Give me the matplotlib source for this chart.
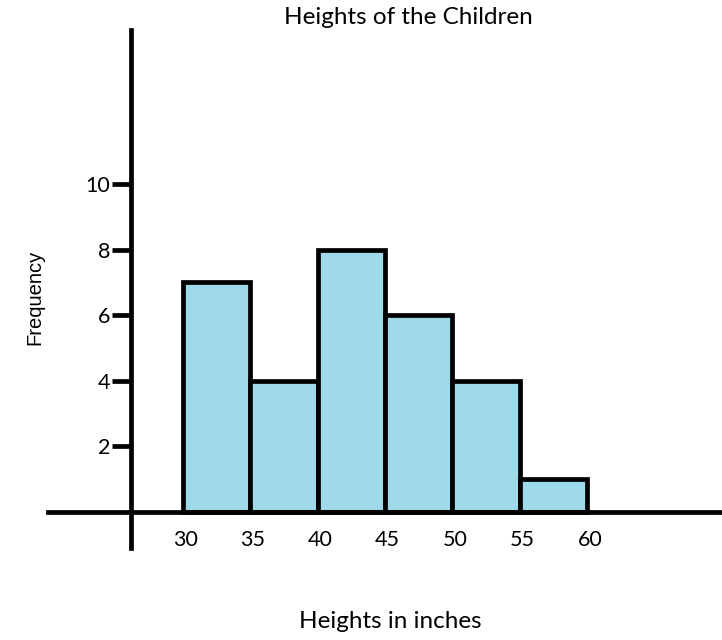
import matplotlib

matplotlib.use("Agg")
import matplotlib.pyplot as plt

# histogram bins (inches) and counts
bin_edges = [30, 35, 40, 45, 50, 55, 60]
frequencies = [7, 4, 8, 6, 4, 1]
x_tick_values = [30, 35, 40, 45, 50, 55, 60]
y_tick_values = [2, 4, 6, 8, 10]

title_text = "Heights of the Children"
x_label_text = "Heights in inches"
y_label_text = "Frequency"

BAR_COLOR = "#9fdaea"
LINE_WIDTH = 3.4

figure = plt.figure(figsize=(7.22, 6.4), dpi=100)
axis = figure.add_axes([48 / 722, (640 - 548) / 640, 1 - 48 / 722, (548 - 30) / 640])

widths = [right - left for left, right in zip(bin_edges[:-1], bin_edges[1:])]
axis.bar(
    bin_edges[:-1],
    frequencies,
    width=widths,
    align="edge",
    color=BAR_COLOR,
    edgecolor="black",
    linewidth=LINE_WIDTH,
    zorder=2,
)

axis.set_xlim(20, 70)
axis.set_ylim(-1.1, 14.7)

for side in ("top", "right"):
    axis.spines[side].set_visible(False)
axis.spines["left"].set_position(("data", 26.15))
axis.spines["bottom"].set_position(("data", 0))
for side in ("left", "bottom"):
    axis.spines[side].set_linewidth(LINE_WIDTH)
    axis.spines[side].set_zorder(3)

axis.set_yticks(y_tick_values)
axis.set_yticklabels([str(v) for v in y_tick_values], fontsize=15.5, family="Lato")
axis.tick_params(axis="y", direction="out", length=14, width=LINE_WIDTH, pad=1)

axis.set_xticks([v + 0.2 for v in x_tick_values])
axis.set_xticklabels([str(v) for v in x_tick_values], fontsize=15.5, family="Lato")
axis.tick_params(axis="x", length=0, pad=13)

figure.text(408 / 722, 1 - 18 / 640, title_text, ha="center", va="center",
            fontsize=17.5, family="Lato")
figure.text(390 / 722, 1 - 622 / 640, x_label_text, ha="center", va="center",
            fontsize=17.5, family="Lato")
figure.text(35 / 722, 1 - 297 / 640, y_label_text, ha="center", va="center",
            rotation=90, fontsize=14.5, family="Liberation Sans")

figure.savefig("out.png", dpi=100)
plt.close(figure)
